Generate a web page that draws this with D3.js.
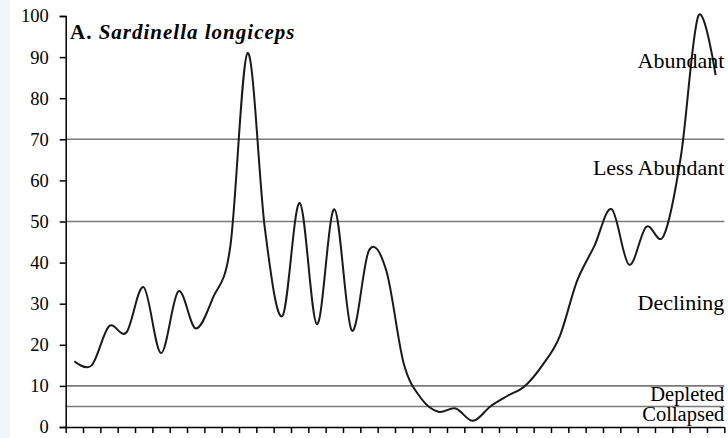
<!DOCTYPE html>
<html>
<head>
<meta charset="utf-8">
<script src="https://cdn.jsdelivr.net/npm/d3@7"></script>
<style>
  body { margin: 0; background: #fff; }
  svg { display: block; font-family: "Liberation Serif", "Times New Roman", serif; }
</style>
</head>
<body>
<div id="chart"></div>
<script>
// status index per period (38 periods, not labelled on the axis)
const status = [16, 15, 24.5, 23, 34, 18, 33, 24, 31.5, 44,
  91, 48, 27, 54.5, 25, 53, 23.5, 43, 38, 15.5,
  7, 3.7, 4.5, 1.5, 5, 7.6, 10, 15, 22, 35.5,
  44, 53, 39.5, 48.7, 46.5, 66, 100, 85.6]
const yTicks = [0, 10, 20, 30, 40, 50, 60, 70, 80, 90, 100]
const thresholds = [70, 50, 10, 5]
const zoneLabels = ["Abundant", "Less Abundant", "Declining", "Depleted", "Collapsed"]
const zoneValues = [87.3, 61.3, 28.5, 6.3, 1.4]   // where each label sits on the y scale

const ancho = 728, alto = 438
const x0 = 65.7, x1 = 724.3

const svg = d3.select("#chart").append("svg")
  .attr("width", ancho)
  .attr("height", alto)

// light strip on the far left
svg.append("rect").attr("x", 0).attr("y", 0).attr("width", 10).attr("height", alto).attr("fill", "#f2f5f9")

const x = d3.scaleLinear().domain([0, status.length]).range([x0, x1])
const y = d3.scaleLinear().domain([0, 100]).range([427, 16])

// threshold lines
svg.selectAll(".umbral")
  .data(thresholds)
  .enter().append("line")
  .attr("x1", x0).attr("x2", x1)
  .attr("y1", d => y(d)).attr("y2", d => y(d))
  .attr("stroke", "#7a7a7a")
  .attr("stroke-width", 1.6)

// y axis
const ejeY = svg.append("g")
  .attr("transform", "translate(" + x0 + ",0)")
  .call(d3.axisLeft(y).tickValues(yTicks).tickSize(6).tickPadding(11).tickSizeOuter(6))
ejeY.selectAll("text").attr("font-size", 18.5).attr("font-family", "Liberation Serif").attr("fill", "#000")
ejeY.selectAll("path, line").attr("stroke", "#000").attr("stroke-width", 1.5)

// x axis, ticks between periods
const ejeX = svg.append("g")
  .attr("transform", "translate(0," + y(0) + ")")
  .call(d3.axisBottom(x).tickValues(d3.range(status.length + 1)).tickFormat("").tickSize(6).tickSizeOuter(0))
ejeX.selectAll("path, line").attr("stroke", "#000").attr("stroke-width", 1.5)

// smoothed line
const linea = d3.line()
  .x((d, i) => x(i + 0.5))
  .y(d => y(d))
  .curve(d3.curveCatmullRom.alpha(0))

svg.append("path")
  .datum(status)
  .attr("d", linea)
  .attr("fill", "none")
  .attr("stroke", "#1a1a1a")
  .attr("stroke-width", 2)

// zone labels
svg.selectAll(".zona")
  .data(zoneLabels)
  .enter().append("text")
  .attr("x", x1)
  .attr("y", (d, i) => y(zoneValues[i]))
  .attr("text-anchor", "end")
  .attr("font-size", (d, i) => i >= 3 ? 20.5 : 22)
  .attr("fill", "#000")
  .text(d => d)

// title
const titulo = svg.append("text")
  .attr("x", 70)
  .attr("y", 39)
  .attr("font-size", 21)
  .attr("font-weight", "bold")
  .attr("letter-spacing", 1)
  .attr("fill", "#000")
titulo.append("tspan").text("A. ")
titulo.append("tspan").attr("font-style", "italic").text("Sardinella longiceps")
</script>
</body>
</html>
